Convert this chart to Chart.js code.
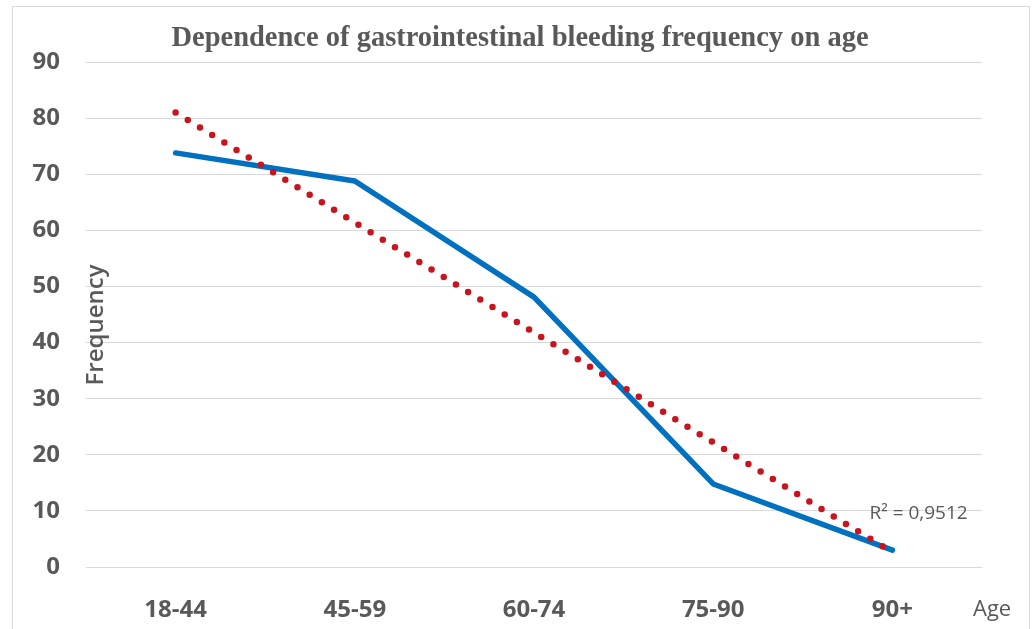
<!DOCTYPE html>
<html>
<head>
<meta charset="utf-8">
<script src="https://cdn.jsdelivr.net/npm/chart.js@4"></script>
<style>
  html, body { margin: 0; padding: 0; background: #fff; }
  #wrap { position: relative; width: 1035px; height: 629px; }
</style>
</head>
<body>
<div id="wrap"><canvas id="chart" width="1035" height="629"></canvas></div>
<script>
const ageGroups = ["18-44", "45-59", "60-74", "75-90", "90+"];
const frequency = [73.8, 68.8, 48.1, 14.8, 3.0];
const trendLine = [81.0, 61.4, 41.8, 22.2, 2.6];
const yTicks = [0, 10, 20, 30, 40, 50, 60, 70, 80, 90];

const titleText = "Dependence of gastrointestinal bleeding frequency on age";
const yTitle = "Frequency";
const xTitle = "Age";
const r2Text = "R\u00b2 = 0,9512";

const textGray = "#595959";

// frame, title, axis titles and the trendline label
const extras = {
  id: "extras",
  beforeDraw(chart) {
    const ctx = chart.ctx;
    ctx.save();
    ctx.strokeStyle = "#d9d9d9";
    ctx.lineWidth = 1;
    ctx.strokeRect(12.5, 6.5, 1017, 700);
    ctx.restore();
  },
  afterDraw(chart) {
    const ctx = chart.ctx;
    const x = chart.scales.x;
    const y = chart.scales.y;
    ctx.save();
    ctx.fillStyle = textGray;
    ctx.textBaseline = "middle";

    ctx.font = "bold 28.5px 'Liberation Serif'";
    ctx.textAlign = "center";
    ctx.fillText(titleText, 520, 39);

    ctx.font = "22px 'Open Sans'";
    ctx.textAlign = "left";
    ctx.fillText(xTitle, 973, 610);

    ctx.font = "19px 'Open Sans'";
    ctx.textAlign = "left";
    ctx.fillText(r2Text, x.getPixelForValue(4) - 23, y.getPixelForValue(9.6));

    ctx.translate(96, 325);
    ctx.rotate(-Math.PI / 2);
    ctx.font = "600 24px 'Open Sans'";
    ctx.textAlign = "center";
    ctx.fillText(yTitle, 0, 0);
    ctx.restore();
  }
};

new Chart(document.getElementById("chart"), {
  type: "line",
  data: {
    labels: ageGroups,
    datasets: [
      {
        label: "Trend",
        data: trendLine,
        borderColor: "#c8141e",
        borderWidth: 6.5,
        borderDash: [0, 14.3],
        borderCapStyle: "round",
        pointRadius: 0,
        tension: 0,
        fill: false,
        order: 0,
      },
      {
        label: "Frequency",
        data: frequency,
        borderColor: "#0070c0",
        borderWidth: 5.5,
        borderCapStyle: "round",
        borderJoinStyle: "round",
        pointRadius: 0,
        tension: 0,
        fill: false,
        order: 1,
      },
    ],
  },
  options: {
    responsive: false,
    animation: false,
    layout: { padding: { left: 0, top: 62, right: 53, bottom: 0 } },
    plugins: {
      legend: { display: false },
      tooltip: { enabled: false },
      title: { display: false },
    },
    scales: {
      x: {
        offset: true,
        grid: { display: false },
        border: { display: false },
        ticks: {
          color: textGray,
          font: { family: "Open Sans", size: 24, weight: "bold" },
          padding: 21,
          maxRotation: 0,
        },
        afterFit(scale) { scale.height = 62; },
      },
      y: {
        min: 0,
        max: 90,
        afterBuildTicks(scale) { scale.ticks = yTicks.map(v => ({ value: v })); },
        grid: { color: "#d9d9d9", lineWidth: 1, drawTicks: false },
        border: { display: false },
        ticks: {
          color: textGray,
          font: { family: "Open Sans", size: 24, weight: "bold" },
          padding: 26,
        },
        afterFit(scale) { scale.width = 86; },
      },
    },
  },
  plugins: [extras],
});
</script>
</body>
</html>
